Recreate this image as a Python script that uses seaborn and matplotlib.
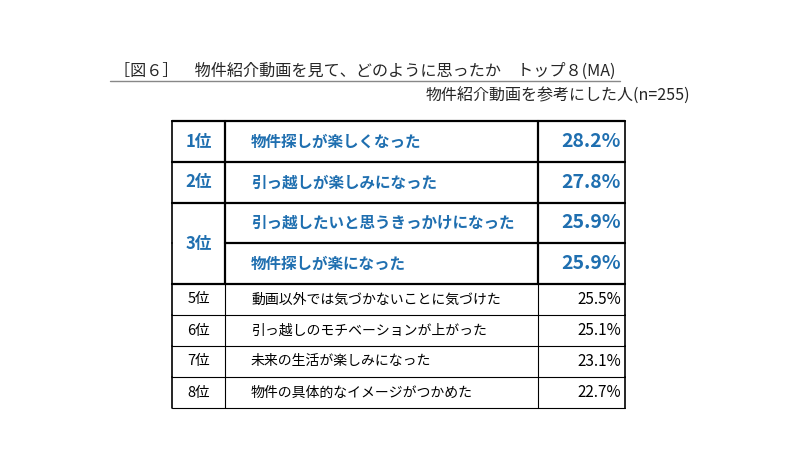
import seaborn as sns
import matplotlib.pyplot as plt

sns.set_theme(style="white", font="Noto Sans CJK JP")

ranks = ["1位", "2位", "3位", "3位", "5位", "6位", "7位", "8位"]
items = ["物件探しが楽しくなった", "引っ越しが楽しみになった", "引っ越したいと思うきっかけになった",
         "物件探しが楽になった", "動画以外では気づかないことに気づけた", "引っ越しのモチベーションが上がった",
         "未来の生活が楽しみになった", "物件の具体的なイメージがつかめた"]
values = [28.2, 27.8, 25.9, 25.9, 25.5, 25.1, 23.1, 22.7]

title = "［図６］　物件紹介動画を見て、どのように思ったか　トップ８(MA)"
subtitle = "物件紹介動画を参考にした人(n=255)"

blue = "#1f6fb0"
fig = plt.figure(figsize=(8, 4.5), dpi=100)
ax = fig.add_axes([0, 0, 1, 1])
ax.set_xlim(0, 800)
ax.set_ylim(450, 0)
ax.axis("off")

ax.text(114, 71, title, fontsize=11.6, va="center", ha="left")
ax.plot([110, 620], [81, 81], color="#888888", lw=1)
ax.text(690, 96, subtitle, fontsize=11.5, va="center", ha="right")

x0, x1, x2, x3 = 172, 225, 538, 625
tops = [121, 162, 203, 243, 284, 315, 346, 377, 408]
for i, (r, it, v) in enumerate(zip(ranks, items, values)):
    yt, yb = tops[i], tops[i + 1]
    ym = (yt + yb) / 2
    top = i < 4
    col = blue if top else "black"
    fw = "bold" if top else "normal"
    fs = 11.2 if top else 10
    lw = 1.6 if top else 0.8
    ax.text(x1 + 26, ym, it, color=col, fontweight=fw, fontsize=fs, va="center")
    ax.text(x3 - 4, ym, f"{v:.1f}%", color=col, fontweight=fw, fontsize=14 if top else 11, va="center", ha="right")
    rfs = 12 if top else 10.5
    if i not in (2, 3):
        ax.text((x0 + x1) / 2, ym, r, color=col, fontweight=fw, fontsize=rfs, va="center", ha="center")
    elif i == 2:
        ax.text((x0 + x1) / 2, (tops[2] + tops[4]) / 2, r, color=col, fontweight=fw, fontsize=rfs, va="center", ha="center")
    left = x1 if i == 2 else x0
    ax.plot([left, x3], [yb, yb], color="black", lw=1.6 if i < 4 else 0.8)
    for x in (x0, x1, x2, x3):
        ax.plot([x, x], [yt, yb], color="black", lw=lw if x not in (x0, x3) else 1.2)
ax.plot([x0, x3], [tops[0], tops[0]], color="black", lw=1.6)

fig.savefig("out.png", dpi=100)
